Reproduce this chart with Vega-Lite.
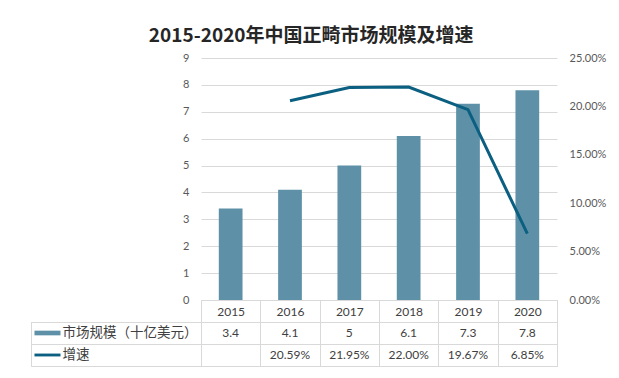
{
  "$schema": "https://vega.github.io/schema/vega-lite/v6.json",
  "background": "white",
  "padding": {"left": 30, "top": 27, "right": 5, "bottom": 5},
  "title": {"text": "2015-2020年中国正畸市场规模及增速", "font": "Noto Sans CJK SC", "fontSize": 19, "fontWeight": "bold", "color": "#262626", "anchor": "middle", "offset": 6, "dx": -7},
  "datasets": {
    "d": [
      {"year": "2015", "size": 3.4, "growth": null},
      {"year": "2016", "size": 4.1, "growth": 0.2059},
      {"year": "2017", "size": 5, "growth": 0.2195},
      {"year": "2018", "size": 6.1, "growth": 0.22},
      {"year": "2019", "size": 7.3, "growth": 0.1967},
      {"year": "2020", "size": 7.8, "growth": 0.0685}
    ]
  },
  "columns": 2,
  "bounds": "flush",
  "spacing": {"row": 22, "column": 0},
  "concat": [
    {
      "width": 170, "height": 242,
      "data": {"values": []},
      "view": {"stroke": null},
      "mark": "point",
      "encoding": {}
    },
    {
      "width": 356, "height": 242,
      "data": {"name": "d"},
      "view": {"stroke": null},
      "layer": [
        {
          "mark": {"type": "bar", "color": "#5E91A8"},
          "encoding": {
            "x": {"field": "year", "type": "ordinal", "scale": {"paddingInner": 0.6, "paddingOuter": 0.3}, "axis": null},
            "y": {"field": "size", "type": "quantitative", "scale": {"domain": [0, 9]},
              "axis": {"orient": "left", "title": null, "values": [0,1,2,3,4,5,6,7,8,9], "grid": true, "gridColor": "#D9D9D9", "ticks": false, "domain": false, "labelPadding": 12}}
          }
        },
        {
          "mark": {"type": "line", "color": "#0B5F80", "strokeWidth": 3},
          "encoding": {
            "x": {"field": "year", "type": "ordinal", "scale": {"paddingInner": 0, "paddingOuter": 0},
              "axis": {"title": null, "labelAngle": 0, "domain": true, "domainColor": "#D9D9D9", "ticks": true, "tickColor": "#D9D9D9", "tickWidth": 1, "tickBand": "extent", "tickSize": 22, "labelPadding": -11, "labelBaseline": "middle", "labelColor": "#404040", "labelFontSize": 12}},
            "y": {"field": "growth", "type": "quantitative", "scale": {"domain": [0, 0.25]},
              "axis": {"orient": "right", "title": null, "values": [0, 0.05, 0.1, 0.15, 0.2, 0.25], "format": ".2%", "grid": false, "ticks": false, "domain": false, "labelPadding": 12}}
          }
        }
      ],
      "resolve": {"scale": {"x": "independent", "y": "independent"}, "axis": {"x": "independent"}}
    },
    {
      "width": 170, "height": 44,
      "data": {"values": [{"row": "市场规模（十亿美元）", "sym": "bar"}, {"row": "增速", "sym": "line"}]},
      "view": {"stroke": "#D9D9D9"},
      "encoding": {
        "y": {"field": "row", "type": "nominal", "sort": null, "scale": {"paddingInner": 0, "paddingOuter": 0},
          "axis": {"title": null, "labels": false, "ticks": false, "domain": false, "grid": true, "gridColor": "#D9D9D9", "tickBand": "extent"}}
      },
      "layer": [
        {
          "mark": {"type": "text", "align": "left", "baseline": "middle", "font": "Noto Sans CJK SC", "fontSize": 13.5, "color": "#404040"},
          "encoding": {
            "x": {"datum": 1.85, "type": "quantitative", "scale": {"domain": [0, 10]}, "axis": null},
            "text": {"field": "row"}
          }
        },
        {
          "transform": [{"filter": "datum.sym === 'bar'"}],
          "mark": {"type": "point", "filled": true, "shape": "M-1,-0.18H1V0.18H-1Z", "size": 676, "color": "#5E91A8", "opacity": 1, "strokeWidth": 0},
          "encoding": {"x": {"datum": 0.97, "type": "quantitative"}}
        },
        {
          "transform": [{"filter": "datum.sym === 'line'"}],
          "mark": {"type": "point", "filled": true, "shape": "M-1,-0.11H1V0.11H-1Z", "size": 676, "color": "#0B5F80", "opacity": 1, "strokeWidth": 0},
          "encoding": {"x": {"datum": 0.97, "type": "quantitative"}}
        }
      ]
    },
    {
      "width": 356, "height": 44,
      "data": {"name": "d"},
      "view": {"stroke": "#D9D9D9"},
      "encoding": {
        "x": {"field": "year", "type": "ordinal", "scale": {"paddingInner": 0, "paddingOuter": 0},
          "axis": {"title": null, "labels": false, "ticks": false, "domain": false, "grid": true, "gridColor": "#D9D9D9", "tickBand": "extent"}}
      },
      "layer": [
        {
          "mark": {"type": "text", "font": "Lato", "fontSize": 12, "color": "#404040", "baseline": "middle"},
          "encoding": {
            "y": {"datum": "市场规模（十亿美元）", "type": "nominal", "scale": {"domain": ["市场规模（十亿美元）", "增速"], "paddingInner": 0, "paddingOuter": 0},
              "axis": {"title": null, "labels": false, "ticks": false, "domain": false, "grid": true, "gridColor": "#D9D9D9", "tickBand": "extent"}},
            "text": {"field": "size", "type": "quantitative", "format": "~g"}
          }
        },
        {
          "transform": [{"filter": "isValid(datum.growth)"}],
          "mark": {"type": "text", "font": "Lato", "fontSize": 12, "color": "#404040", "baseline": "middle"},
          "encoding": {
            "y": {"datum": "增速", "type": "nominal"},
            "text": {"field": "growth", "type": "quantitative", "format": ".2%"}
          }
        }
      ]
    }
  ],
  "config": {
    "axis": {"labelFont": "Lato", "labelColor": "#595959", "labelFontSize": 11}
  }
}
